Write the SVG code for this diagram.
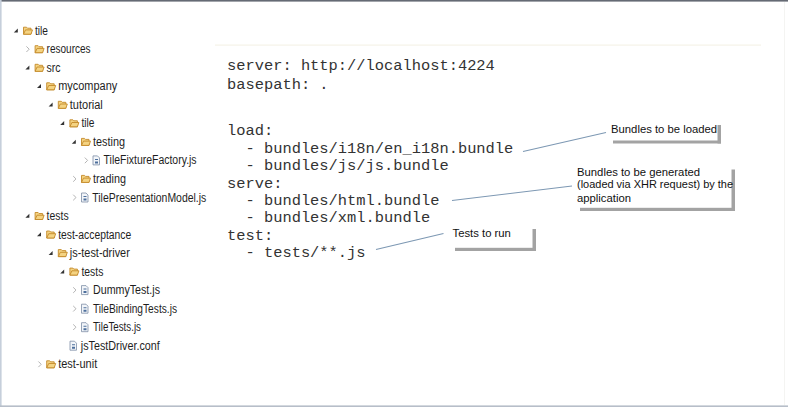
<svg xmlns="http://www.w3.org/2000/svg" width="788" height="407" viewBox="0 0 788 407">
<style>
.t{font-family:"Liberation Sans",Arial,sans-serif;font-size:12px;fill:#1e1e1e}
.c{font-family:"Liberation Mono","Courier New",monospace;font-size:15.4px;fill:#333;white-space:pre}
.n{font-family:"Liberation Sans",Arial,sans-serif;font-size:11.3px;fill:#111}
.exp{fill:#333}
.col{fill:none;stroke:#b4b4b4;stroke-width:1}
.fo{fill:#f4d382;stroke:#c48a2a;stroke-width:0.9}
.fi{fill:#f2f5f9;stroke:#7d8ea6;stroke-width:0.8}
.fj{fill:#4d6f9c}
.sh{fill:#a3a3a3}
.ln{stroke:#7d98b3;stroke-width:1.1;fill:none}
</style>
<defs>
<g id="ex"><path class="exp" d="M1.8,-2.2 L1.8,1.8 L-2.2,1.8 Z"/></g>
<g id="cl"><path class="col" d="M-1.2,-2.8 L1.6,0 L-1.2,2.8"/></g>
<g id="fold"><path class="fo" d="M0.5,-3.5 L3.5,-3.5 L4.5,-2.5 L8,-2.5 L8,3.5 L0.5,3.5 Z"/><path class="fo" d="M0.5,3.5 L2.5,-0.8 L9.5,-0.8 L8,3.5 Z"/></g>
<g id="file"><path class="fi" d="M1,-4.5 L5.5,-4.5 L7.5,-2.5 L7.5,4.5 L1,4.5 Z"/><path class="fj" d="M3,-1.5 h3 v1 h-3 z M3,1 h3 v2 h-3 z"/></g>
</defs>
<rect x="0" y="0" width="788" height="407" fill="#ffffff"/>
<rect x="0" y="0" width="788" height="1.6" fill="#656a74"/>
<rect x="0" y="0" width="1.6" height="407" fill="#c6cfdb"/>
<rect x="0" y="405.4" width="788" height="1.6" fill="#b7bec9"/>
<rect x="784" y="2" width="1" height="403" fill="#f4f4f2"/>
<rect x="215" y="44.5" width="546" height="1.2" fill="#f5f3e8"/>

<g id="tree">
<g id="n-tile"><use href="#ex" x="16" y="30.7"/><use href="#fold" x="23" y="30.7"/><text class="t" x="35" y="34.7" textLength="13" lengthAdjust="spacingAndGlyphs">tile</text></g>
<g id="n-resources"><use href="#cl" x="27.6" y="49.2"/><use href="#fold" x="34.6" y="49.2"/><text class="t" x="46.6" y="53.2" textLength="44" lengthAdjust="spacingAndGlyphs">resources</text></g>
<g id="n-src"><use href="#ex" x="27.6" y="67.8"/><use href="#fold" x="34.6" y="67.8"/><text class="t" x="46.6" y="71.8" textLength="14" lengthAdjust="spacingAndGlyphs">src</text></g>
<g id="n-mycompany"><use href="#ex" x="39.2" y="86.3"/><use href="#fold" x="46.2" y="86.3"/><text class="t" x="58.2" y="90.3" textLength="59" lengthAdjust="spacingAndGlyphs">mycompany</text></g>
<g id="n-tutorial"><use href="#ex" x="50.8" y="104.8"/><use href="#fold" x="57.8" y="104.8"/><text class="t" x="69.8" y="108.8" textLength="33" lengthAdjust="spacingAndGlyphs">tutorial</text></g>
<g id="n-tile2"><use href="#ex" x="62.4" y="123.3"/><use href="#fold" x="69.4" y="123.3"/><text class="t" x="81.4" y="127.3" textLength="13" lengthAdjust="spacingAndGlyphs">tile</text></g>
<g id="n-testing"><use href="#ex" x="74" y="141.9"/><use href="#fold" x="81" y="141.9"/><text class="t" x="93" y="145.9" textLength="32" lengthAdjust="spacingAndGlyphs">testing</text></g>
<g id="n-tff"><use href="#cl" x="86" y="160.4"/><use href="#file" x="92" y="160.4"/><text class="t" x="103.6" y="164.4" textLength="93" lengthAdjust="spacingAndGlyphs">TileFixtureFactory.js</text></g>
<g id="n-trading"><use href="#cl" x="74.4" y="178.9"/><use href="#fold" x="81" y="178.9"/><text class="t" x="93" y="182.9" textLength="33" lengthAdjust="spacingAndGlyphs">trading</text></g>
<g id="n-tpm"><use href="#cl" x="74.4" y="197.5"/><use href="#file" x="80.5" y="197.5"/><text class="t" x="92.3" y="201.5" textLength="114" lengthAdjust="spacingAndGlyphs">TilePresentationModel.js</text></g>
<g id="n-tests"><use href="#ex" x="27.6" y="216"/><use href="#fold" x="34.6" y="216"/><text class="t" x="46.6" y="220" textLength="22" lengthAdjust="spacingAndGlyphs">tests</text></g>
<g id="n-testacc"><use href="#ex" x="39.2" y="234.5"/><use href="#fold" x="46.2" y="234.5"/><text class="t" x="58.2" y="238.5" textLength="73" lengthAdjust="spacingAndGlyphs">test-acceptance</text></g>
<g id="n-jstd"><use href="#ex" x="50.8" y="253.1"/><use href="#fold" x="57.8" y="253.1"/><text class="t" x="69.8" y="257.1" textLength="60" lengthAdjust="spacingAndGlyphs">js-test-driver</text></g>
<g id="n-tests2"><use href="#ex" x="62.4" y="271.6"/><use href="#fold" x="69.4" y="271.6"/><text class="t" x="81.4" y="275.6" textLength="22" lengthAdjust="spacingAndGlyphs">tests</text></g>
<g id="n-dummy"><use href="#cl" x="74.4" y="290.1"/><use href="#file" x="80.5" y="290.1"/><text class="t" x="93" y="294.1" textLength="67" lengthAdjust="spacingAndGlyphs">DummyTest.js</text></g>
<g id="n-tbt"><use href="#cl" x="74.4" y="308.7"/><use href="#file" x="80.5" y="308.7"/><text class="t" x="93" y="312.7" textLength="84" lengthAdjust="spacingAndGlyphs">TileBindingTests.js</text></g>
<g id="n-tt"><use href="#cl" x="74.4" y="327.2"/><use href="#file" x="80.5" y="327.2"/><text class="t" x="93" y="331.2" textLength="48" lengthAdjust="spacingAndGlyphs">TileTests.js</text></g>
<g id="n-conf"><use href="#file" x="69" y="345.7"/><text class="t" x="80.8" y="349.7" textLength="79" lengthAdjust="spacingAndGlyphs">jsTestDriver.conf</text></g>
<g id="n-unit"><use href="#cl" x="39.6" y="364.3"/><use href="#fold" x="46.2" y="364.3"/><text class="t" x="58.2" y="368.3" textLength="39" lengthAdjust="spacingAndGlyphs">test-unit</text></g>
</g>

<g id="code">
<text class="c" x="227" y="70">server: http://localhost:4224</text>
<text class="c" x="227" y="89">basepath: .</text>
<text class="c" x="227" y="135">load:</text>
<text class="c" x="227" y="152.5">  - bundles/i18n/en_i18n.bundle</text>
<text class="c" x="227" y="169.8">  - bundles/js/js.bundle</text>
<text class="c" x="227" y="187.8">serve:</text>
<text class="c" x="227" y="205.2">  - bundles/html.bundle</text>
<text class="c" x="227" y="222.3">  - bundles/xml.bundle</text>
<text class="c" x="227" y="239.6">test:</text>
<text class="c" x="227" y="257">  - tests/**.js</text>
</g>

<g id="connectors">
<line class="ln" x1="523" y1="151.5" x2="606" y2="132.5"/>
<line class="ln" x1="452" y1="200.5" x2="572" y2="186"/>
<line class="ln" x1="376" y1="249.5" x2="443.5" y2="233.5"/>
</g>

<g id="callout-loaded">
<rect class="sh" x="717.5" y="125" width="3.5" height="18.5"/>
<rect class="sh" x="613" y="140.5" width="108" height="3"/>
<text class="n" x="611" y="132.5">Bundles to be loaded</text>
</g>
<g id="callout-generated">
<rect class="sh" x="731.5" y="169.5" width="3.5" height="41.5"/>
<rect class="sh" x="580" y="207.8" width="155" height="3.2"/>
<text class="n" x="577" y="175.8">Bundles to be generated</text>
<text class="n" x="577" y="188.3" textLength="156" lengthAdjust="spacingAndGlyphs">(loaded via XHR request) by the</text>
<text class="n" x="577" y="201.5">application</text>
</g>
<g id="callout-tests">
<rect class="sh" x="532.5" y="229" width="3.5" height="22"/>
<text class="n" x="452.5" y="236.5">Tests to run</text>
<rect class="sh" x="455" y="247.8" width="81" height="3.2"/>
</g>
</svg>
